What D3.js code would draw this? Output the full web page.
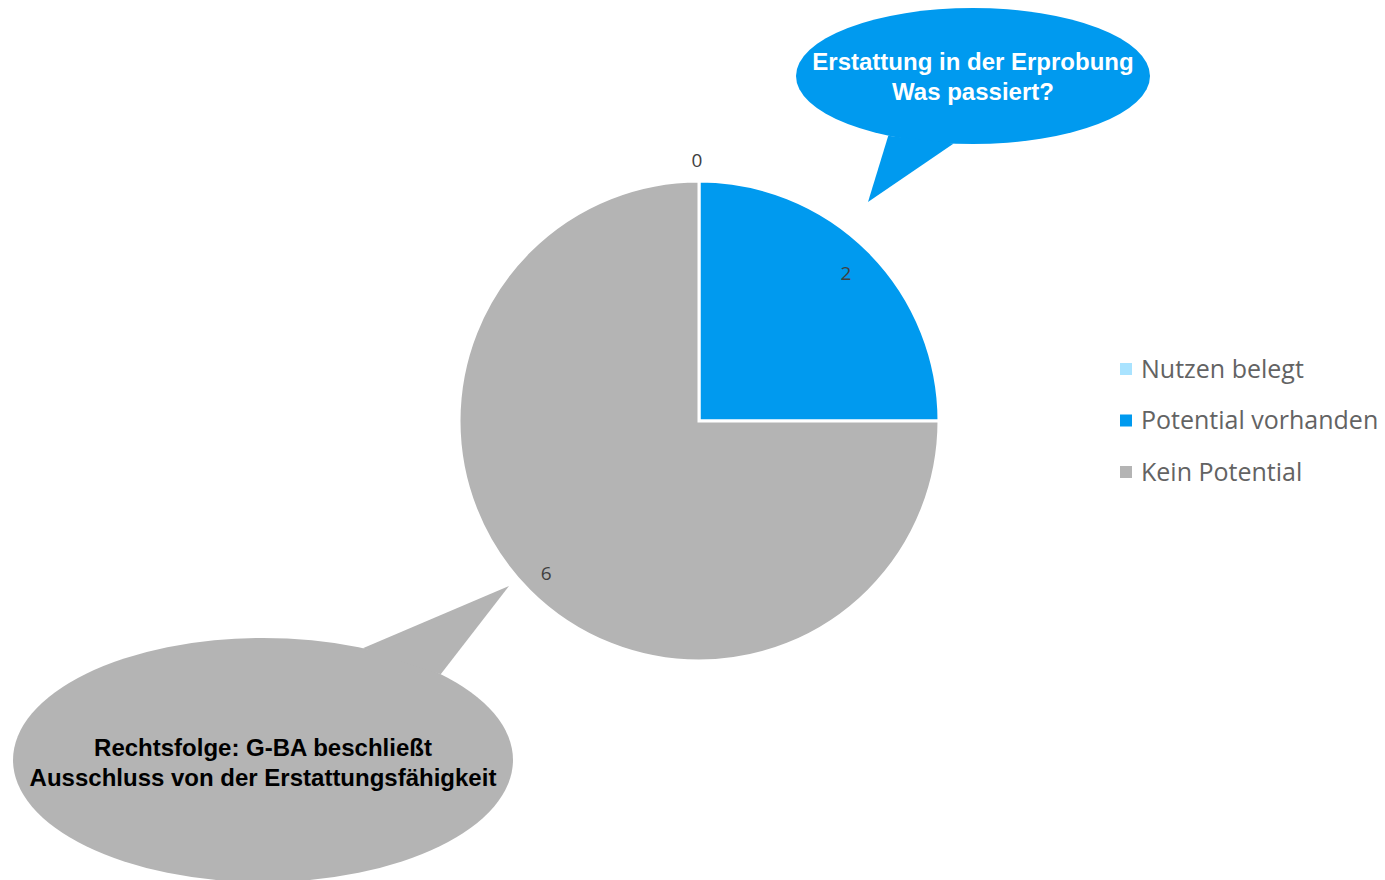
<!DOCTYPE html>
<html>
<head>
<meta charset="utf-8">
<script src="https://cdn.jsdelivr.net/npm/d3@7"></script>
<style>
  body { margin: 0; background: #fff; }
  svg { display: block; }
</style>
</head>
<body>
<svg id="chart" width="1385" height="880"></svg>
<script>
const categories = ["Nutzen belegt", "Potential vorhanden", "Kein Potential"];
const values = [0, 2, 6];
const colors = ["#A9E3FF", "#009AEF", "#B4B4B4"];

const svg = d3.select("#chart");
const cx = 699, cy = 421, radius = 240;

// callout bubbles (drawn first so the pie sits on top)
function bubble(g, ex, ey, rx, ry, a1, a2, tip, fill) {
  const p1 = [ex + rx * Math.cos(a1), ey + ry * Math.sin(a1)];
  const p2 = [ex + rx * Math.cos(a2), ey + ry * Math.sin(a2)];
  g.append("ellipse").attr("cx", ex).attr("cy", ey).attr("rx", rx).attr("ry", ry).attr("fill", fill);
  g.append("path")
    .attr("d", `M${p1}L${tip}L${p2}Z`)
    .attr("fill", fill);
}

const callouts = svg.append("g");
bubble(callouts, 973, 76, 177, 68, 2.07, 1.68, [868, 202], colors[1]);
bubble(callouts, 263, 760, 250, 122, -1.16, -0.78, [509, 586], colors[2]);

const pie = d3.pie().sort(null).startAngle(0).endAngle(2 * Math.PI).value(d => d);
const arcs = pie(values);
const arc = d3.arc().innerRadius(0).outerRadius(radius);
const labelArc = d3.arc().innerRadius(212).outerRadius(212);

const pg = svg.append("g").attr("transform", `translate(${cx},${cy})`);
pg.selectAll("path")
  .data(arcs)
  .join("path")
  .attr("d", arc)
  .attr("fill", (d, i) => colors[i])
  .attr("stroke", "#fff")
  .attr("stroke-width", 3)
  .attr("stroke-linejoin", "miter");

pg.selectAll("text")
  .data(arcs)
  .join("text")
  .attr("transform", d => {
    if (d.value === 0) {
      const a = d.startAngle;
      const r = radius + 21;
      return `translate(${Math.sin(a) * r - 2},${-Math.cos(a) * r})`;
    }
    const [x, y] = labelArc.centroid(d);
    return `translate(${x - 3},${y + 2})`;
  })
  .attr("text-anchor", "middle")
  .attr("dy", "0.35em")
  .attr("fill", "#404040")
  .style("font-family", "'Open Sans', sans-serif")
  .style("font-size", "19px")
  .text(d => d.value);

// callout texts
const bold = "'Liberation Sans', Arial, sans-serif";
svg.append("text")
  .attr("x", 973).attr("y", 70)
  .attr("text-anchor", "middle")
  .attr("fill", "#fff")
  .style("font-family", bold).style("font-weight", 700).style("font-size", "24px")
  .selectAll("tspan")
  .data(["Erstattung in der Erprobung", "Was passiert?"])
  .join("tspan")
  .attr("x", 973)
  .attr("dy", (d, i) => i ? 30 : 0)
  .text(d => d);

svg.append("text")
  .attr("x", 263).attr("y", 756)
  .attr("text-anchor", "middle")
  .attr("fill", "#000")
  .style("font-family", bold).style("font-weight", 700).style("font-size", "24px")
  .selectAll("tspan")
  .data(["Rechtsfolge: G-BA beschließt", "Ausschluss von der Erstattungsfähigkeit"])
  .join("tspan")
  .attr("x", 263)
  .attr("dy", (d, i) => i ? 30 : 0)
  .text(d => d);

// legend
const legend = svg.append("g").attr("transform", "translate(1120,369)");
const item = legend.selectAll("g")
  .data(categories)
  .join("g")
  .attr("transform", (d, i) => `translate(0,${i * 51.5})`);
item.append("rect")
  .attr("x", 0).attr("y", -6).attr("width", 12).attr("height", 12)
  .attr("fill", (d, i) => colors[i]);
item.append("text")
  .attr("x", 21).attr("dy", "0.35em")
  .attr("fill", "#636363")
  .style("font-family", "'Open Sans', sans-serif")
  .style("font-size", "25px")
  .text(d => d);
</script>
</body>
</html>
